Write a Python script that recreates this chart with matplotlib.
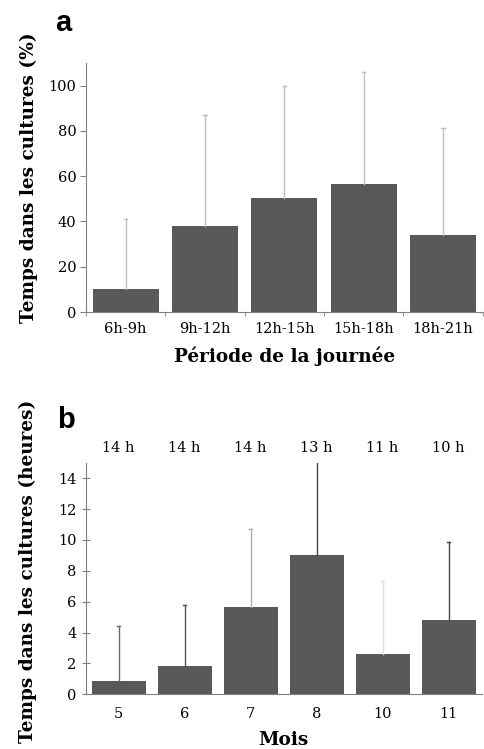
import matplotlib.pyplot as plt
import numpy as np

# panel a: time in crops (%) by period of day
periodes = ['6h-9h', '9h-12h', '12h-15h', '15h-18h', '18h-21h']
pct_moy = [10.2, 38.0, 50.3, 56.4, 34.0]
pct_haut = [40.9, 87.0, 100.0, 106.2, 81.5]

# panel b: time in crops (hours) by month
mois = ['5', '6', '7', '8', '10', '11']
heures_moy = [0.86, 1.85, 5.68, 9.05, 2.58, 4.79]
heures_haut = [4.42, 5.78, 10.68, 15.5, 7.35, 9.85]
duree_jour = ['14 h', '14 h', '14 h', '13 h', '11 h', '10 h']
err_colors = ['#6a6a6a', '#555555', '#b0b0b0', '#454545', '#e0e0e0', '#454545']

bar_col = '#595959'
plt.rcParams['font.family'] = 'DejaVu Serif'

fig = plt.figure(figsize=(4.85, 7.49), dpi=100)

# ---- panel a
ax1 = fig.add_axes([0.1773, 0.5834, 0.8177, 0.3325])
x1 = np.arange(len(periodes))
ax1.bar(x1, pct_moy, width=0.83, color=bar_col)
for xi, m, h in zip(x1, pct_moy, pct_haut):
    ax1.plot([xi, xi], [m, h], color='#bfbfbf', lw=1, zorder=1)
    ax1.plot([xi - 0.02, xi + 0.02], [h, h], color='#bfbfbf', lw=1)
ax1.set_xlim(-0.5, len(periodes) - 0.5)
ax1.set_ylim(0, 110)
ax1.set_yticks(range(0, 101, 20))
ax1.set_xticks(x1)
ax1.set_xticklabels(periodes, fontsize=10.5)
ax1.set_xticks(np.arange(-0.5, len(periodes)), minor=True)
ax1.tick_params(axis='x', which='major', length=0, pad=7)
ax1.tick_params(axis='x', which='minor', length=3, color='#808080')
ax1.tick_params(axis='y', labelsize=10.5, length=4, pad=3, color='#808080')
for s in ['top', 'right']:
    ax1.spines[s].set_visible(False)
for s in ['left', 'bottom']:
    ax1.spines[s].set_color('#808080')
ax1.set_ylabel('Temps dans les cultures (%)', fontsize=13.3, fontweight='bold')
ax1.yaxis.set_label_coords(-0.122, 0.538)
ax1.set_xlabel('Période de la journée', fontsize=13.3, fontweight='bold', labelpad=8)
fig.text(0.113, 0.958, 'a', fontsize=21, fontweight='bold', family='Liberation Sans')

# ---- panel b
ax2 = fig.add_axes([0.1767, 0.0730, 0.8163, 0.3092])
x2 = np.arange(len(mois))
ax2.bar(x2, heures_moy, width=0.82, color=bar_col)
for xi, m, h, c in zip(x2, heures_moy, heures_haut, err_colors):
    ax2.plot([xi, xi], [m, h], color=c, lw=1, zorder=1)
    ax2.plot([xi - 0.025, xi + 0.025], [h, h], color=c, lw=1)
ax2.set_xlim(-0.5, len(mois) - 0.5)
ax2.set_ylim(0, 15)
ax2.set_yticks(range(0, 15, 2))
ax2.set_xticks(x2)
ax2.set_xticklabels(mois, fontsize=10.5)
ax2.tick_params(axis='x', length=0, pad=9)
ax2.tick_params(axis='y', labelsize=10.5, length=6, direction='inout', color='#808080')
for s in ['top', 'right']:
    ax2.spines[s].set_visible(False)
for s in ['left', 'bottom']:
    ax2.spines[s].set_color('#808080')
for xi, t in zip(x2, duree_jour):
    ax2.text(xi, 15.95, t, ha='center', va='center', fontsize=10.5)
ax2.set_ylabel('Temps dans les cultures (heures)', fontsize=13.3, fontweight='bold')
ax2.yaxis.set_label_coords(-0.122, 0.532)
ax2.set_xlabel('Mois', fontsize=13.3, fontweight='bold', labelpad=7)
fig.text(0.118, 0.428, 'b', fontsize=21, fontweight='bold', family='Liberation Sans')

fig.savefig('out.png', dpi=100)
